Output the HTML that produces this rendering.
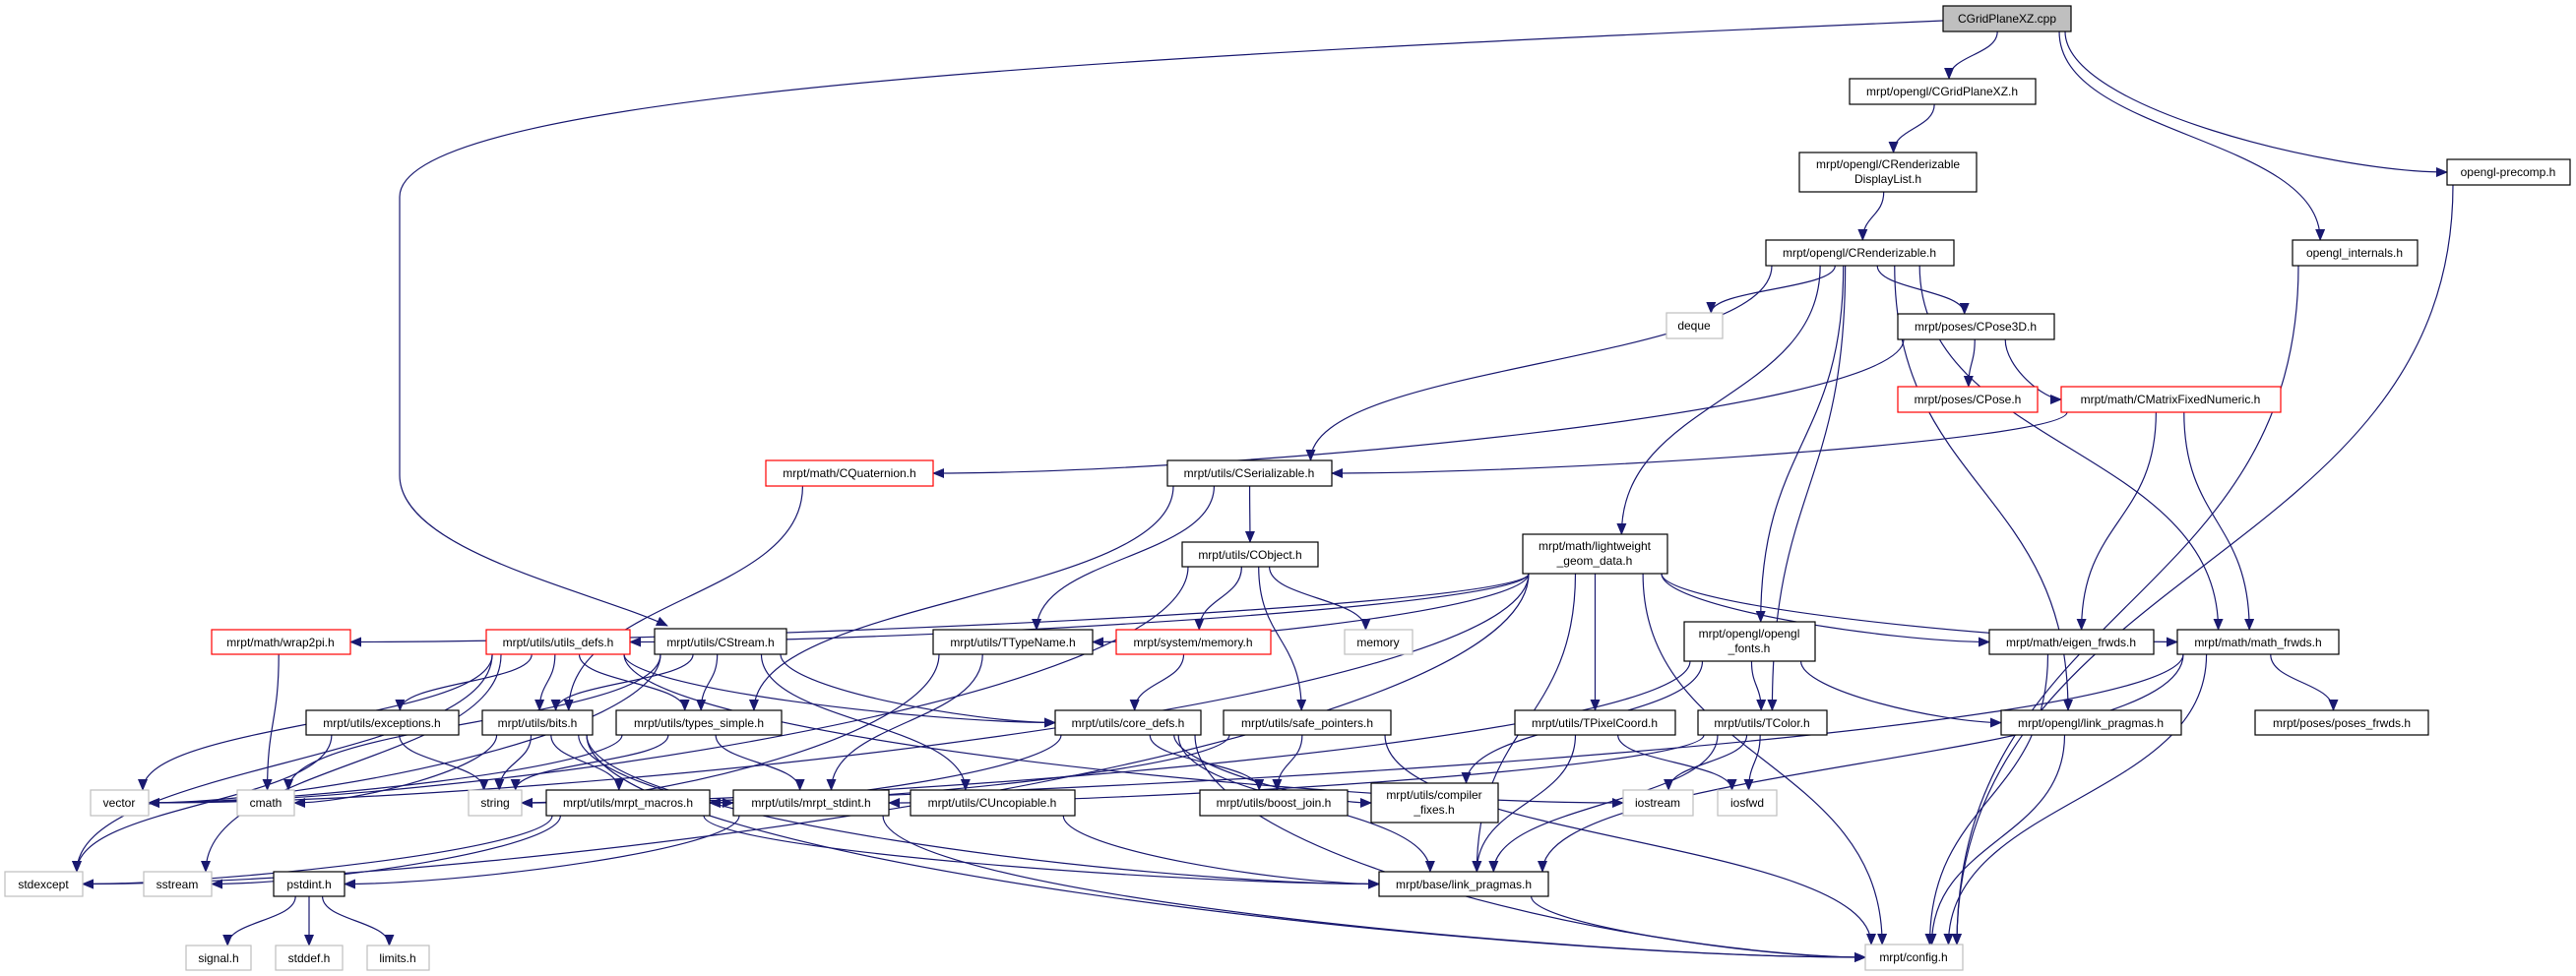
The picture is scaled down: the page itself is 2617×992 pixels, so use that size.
<!DOCTYPE html>
<html><head><meta charset="utf-8">
<style>
html,body{margin:0;padding:0;background:#fff;}
svg{display:block;}
text{font-family:"Liberation Sans",sans-serif;font-size:12px;fill:#000;}
</style></head>
<body>
<svg id="g" width="2617" height="992" viewBox="0 0 2617 992" xmlns="http://www.w3.org/2000/svg">
<defs>
<marker id="ah" markerWidth="12" markerHeight="10" refX="11" refY="5" orient="auto" markerUnits="userSpaceOnUse">
<path d="M0,0 L12,5 L0,10 z" fill="#191970"/>
</marker>
</defs>
<g id="edges" fill="none" stroke="#191970" stroke-width="1.2">
<path d="M1974,21 C1200,55 406,90 406,200 L406,483 C406,560 600,600 678,636" marker-end="url(#ah)"/>
</g>
<g id="nodes" stroke-width="1.2">
<rect x="1974" y="6" width="130" height="26" fill="#bfbfbf" stroke="#000"/><text x="2039" y="23" text-anchor="middle">CGridPlaneXZ.cpp</text>
<rect x="1879" y="80" width="189" height="26" fill="#fff" stroke="#000"/><text x="1973" y="97" text-anchor="middle">mrpt/opengl/CGridPlaneXZ.h</text>
<rect x="1828" y="155" width="180" height="40" fill="#fff" stroke="#000"/><text x="1918" y="171" text-anchor="middle">mrpt/opengl/CRenderizable</text><text x="1918" y="186" text-anchor="middle">DisplayList.h</text>
<rect x="1794" y="244" width="191" height="26" fill="#fff" stroke="#000"/><text x="1889" y="261" text-anchor="middle">mrpt/opengl/CRenderizable.h</text>
<rect x="2329" y="244" width="127" height="26" fill="#fff" stroke="#000"/><text x="2392" y="261" text-anchor="middle">opengl_internals.h</text>
<rect x="2486" y="162" width="125" height="26" fill="#fff" stroke="#000"/><text x="2548" y="179" text-anchor="middle">opengl-precomp.h</text>
<rect x="1693" y="318" width="57" height="26" fill="#fff" stroke="#bfbfbf"/><text x="1721" y="335" text-anchor="middle">deque</text>
<rect x="1928" y="319" width="159" height="26" fill="#fff" stroke="#000"/><text x="2007" y="336" text-anchor="middle">mrpt/poses/CPose3D.h</text>
<rect x="1928" y="393" width="142" height="26" fill="#fff" stroke="#ff0000"/><text x="1999" y="410" text-anchor="middle">mrpt/poses/CPose.h</text>
<rect x="2094" y="393" width="223" height="26" fill="#fff" stroke="#ff0000"/><text x="2205" y="410" text-anchor="middle">mrpt/math/CMatrixFixedNumeric.h</text>
<rect x="778" y="468" width="170" height="26" fill="#fff" stroke="#ff0000"/><text x="863" y="485" text-anchor="middle">mrpt/math/CQuaternion.h</text>
<rect x="1186" y="468" width="167" height="26" fill="#fff" stroke="#000"/><text x="1269" y="485" text-anchor="middle">mrpt/utils/CSerializable.h</text>
<rect x="1201" y="551" width="138" height="25" fill="#fff" stroke="#000"/><text x="1270" y="568" text-anchor="middle">mrpt/utils/CObject.h</text>
<rect x="1547" y="543" width="147" height="40" fill="#fff" stroke="#000"/><text x="1620" y="559" text-anchor="middle">mrpt/math/lightweight</text><text x="1620" y="574" text-anchor="middle">_geom_data.h</text>
<rect x="215" y="640" width="141" height="25" fill="#fff" stroke="#ff0000"/><text x="285" y="657" text-anchor="middle">mrpt/math/wrap2pi.h</text>
<rect x="494" y="640" width="146" height="25" fill="#fff" stroke="#ff0000"/><text x="567" y="657" text-anchor="middle">mrpt/utils/utils_defs.h</text>
<rect x="665" y="639" width="134" height="26" fill="#fff" stroke="#000"/><text x="732" y="657" text-anchor="middle">mrpt/utils/CStream.h</text>
<rect x="948" y="640" width="162" height="25" fill="#fff" stroke="#000"/><text x="1029" y="657" text-anchor="middle">mrpt/utils/TTypeName.h</text>
<rect x="1134" y="640" width="157" height="25" fill="#fff" stroke="#ff0000"/><text x="1212" y="657" text-anchor="middle">mrpt/system/memory.h</text>
<rect x="1366" y="640" width="69" height="25" fill="#fff" stroke="#bfbfbf"/><text x="1400" y="657" text-anchor="middle">memory</text>
<rect x="1711" y="632" width="133" height="40" fill="#fff" stroke="#000"/><text x="1777" y="648" text-anchor="middle">mrpt/opengl/opengl</text><text x="1777" y="663" text-anchor="middle">_fonts.h</text>
<rect x="2021" y="640" width="167" height="25" fill="#fff" stroke="#000"/><text x="2104" y="657" text-anchor="middle">mrpt/math/eigen_frwds.h</text>
<rect x="2212" y="640" width="164" height="25" fill="#fff" stroke="#000"/><text x="2294" y="657" text-anchor="middle">mrpt/math/math_frwds.h</text>
<rect x="311" y="722" width="155" height="25" fill="#fff" stroke="#000"/><text x="388" y="739" text-anchor="middle">mrpt/utils/exceptions.h</text>
<rect x="490" y="722" width="112" height="25" fill="#fff" stroke="#000"/><text x="546" y="739" text-anchor="middle">mrpt/utils/bits.h</text>
<rect x="626" y="722" width="168" height="25" fill="#fff" stroke="#000"/><text x="710" y="739" text-anchor="middle">mrpt/utils/types_simple.h</text>
<rect x="1072" y="722" width="148" height="25" fill="#fff" stroke="#000"/><text x="1146" y="739" text-anchor="middle">mrpt/utils/core_defs.h</text>
<rect x="1243" y="722" width="170" height="25" fill="#fff" stroke="#000"/><text x="1328" y="739" text-anchor="middle">mrpt/utils/safe_pointers.h</text>
<rect x="1539" y="722" width="163" height="25" fill="#fff" stroke="#000"/><text x="1620" y="739" text-anchor="middle">mrpt/utils/TPixelCoord.h</text>
<rect x="1725" y="722" width="131" height="25" fill="#fff" stroke="#000"/><text x="1790" y="739" text-anchor="middle">mrpt/utils/TColor.h</text>
<rect x="2033" y="722" width="183" height="25" fill="#fff" stroke="#000"/><text x="2124" y="739" text-anchor="middle">mrpt/opengl/link_pragmas.h</text>
<rect x="2291" y="722" width="176" height="25" fill="#fff" stroke="#000"/><text x="2379" y="739" text-anchor="middle">mrpt/poses/poses_frwds.h</text>
<rect x="92" y="803" width="59" height="26" fill="#fff" stroke="#bfbfbf"/><text x="121" y="820" text-anchor="middle">vector</text>
<rect x="241" y="803" width="58" height="26" fill="#fff" stroke="#bfbfbf"/><text x="270" y="820" text-anchor="middle">cmath</text>
<rect x="476" y="803" width="54" height="26" fill="#fff" stroke="#bfbfbf"/><text x="503" y="820" text-anchor="middle">string</text>
<rect x="555" y="803" width="166" height="26" fill="#fff" stroke="#000"/><text x="638" y="820" text-anchor="middle">mrpt/utils/mrpt_macros.h</text>
<rect x="745" y="803" width="158" height="26" fill="#fff" stroke="#000"/><text x="824" y="820" text-anchor="middle">mrpt/utils/mrpt_stdint.h</text>
<rect x="925" y="803" width="167" height="26" fill="#fff" stroke="#000"/><text x="1008" y="820" text-anchor="middle">mrpt/utils/CUncopiable.h</text>
<rect x="1219" y="803" width="150" height="26" fill="#fff" stroke="#000"/><text x="1294" y="820" text-anchor="middle">mrpt/utils/boost_join.h</text>
<rect x="1393" y="796" width="129" height="40" fill="#fff" stroke="#000"/><text x="1457" y="812" text-anchor="middle">mrpt/utils/compiler</text><text x="1457" y="827" text-anchor="middle">_fixes.h</text>
<rect x="1649" y="803" width="71" height="26" fill="#fff" stroke="#bfbfbf"/><text x="1684" y="820" text-anchor="middle">iostream</text>
<rect x="1745" y="803" width="60" height="26" fill="#fff" stroke="#bfbfbf"/><text x="1775" y="820" text-anchor="middle">iosfwd</text>
<rect x="5" y="886" width="79" height="25" fill="#fff" stroke="#bfbfbf"/><text x="44" y="903" text-anchor="middle">stdexcept</text>
<rect x="146" y="886" width="69" height="25" fill="#fff" stroke="#bfbfbf"/><text x="180" y="903" text-anchor="middle">sstream</text>
<rect x="278" y="886" width="72" height="25" fill="#fff" stroke="#000"/><text x="314" y="903" text-anchor="middle">pstdint.h</text>
<rect x="1401" y="886" width="172" height="25" fill="#fff" stroke="#000"/><text x="1487" y="903" text-anchor="middle">mrpt/base/link_pragmas.h</text>
<rect x="189" y="961" width="66" height="25" fill="#fff" stroke="#bfbfbf"/><text x="222" y="978" text-anchor="middle">signal.h</text>
<rect x="280" y="961" width="68" height="25" fill="#fff" stroke="#bfbfbf"/><text x="314" y="978" text-anchor="middle">stddef.h</text>
<rect x="373" y="961" width="63" height="25" fill="#fff" stroke="#bfbfbf"/><text x="404" y="978" text-anchor="middle">limits.h</text>
<rect x="1895" y="960" width="99" height="26" fill="#fff" stroke="#bfbfbf"/><text x="1944" y="977" text-anchor="middle">mrpt/config.h</text>
</g>
</svg>
<script>
var N={
cpp:[1974,6,2104,32],gph:[1879,80,2068,106],dl:[1828,155,2008,195],ren:[1794,244,1985,270],
oint:[2329,244,2456,270],pre:[2486,162,2611,188],deque:[1693,318,1750,344],pose3d:[1928,319,2087,345],
cpose:[1928,393,2070,419],cmfn:[2094,393,2317,419],cquat:[778,468,948,494],cser:[1186,468,1353,494],
cobj:[1201,551,1339,576],lw:[1547,543,1694,583],wrap:[215,640,356,665],udefs:[494,640,640,665],
cstream:[665,639,799,665],ttn:[948,640,1110,665],smem:[1134,640,1291,665],memory:[1366,640,1435,665],
fonts:[1711,632,1844,672],eigen:[2021,640,2188,665],mathf:[2212,640,2376,665],exc:[311,722,466,747],
bits:[490,722,602,747],tsimple:[626,722,794,747],core:[1072,722,1220,747],safe:[1243,722,1413,747],
tpix:[1539,722,1702,747],tcolor:[1725,722,1856,747],glp:[2033,722,2216,747],posesf:[2291,722,2467,747],
vector:[92,803,151,829],cmath:[241,803,299,829],string:[476,803,530,829],macros:[555,803,721,829],
stdint:[745,803,903,829],uncop:[925,803,1092,829],bjoin:[1219,803,1369,829],cfix:[1393,796,1522,836],
iostream:[1649,803,1720,829],iosfwd:[1745,803,1805,829],stdexc:[5,886,84,911],sstream:[146,886,215,911],
pstd:[278,886,350,911],blp:[1401,886,1573,911],signal:[189,961,255,986],stddef:[280,961,348,986],
limits:[373,961,436,986],config:[1895,960,1994,986]};
var E=[["cpp","gph"],["cpp","oint"],["cpp","pre"],["gph","dl"],["dl","ren"],
["ren","deque"],["ren","pose3d"],["ren","cser"],["ren","lw"],["ren","fonts"],["ren","tcolor"],["ren","mathf"],["ren","glp"],
["pose3d","cquat"],["pose3d","cpose"],["pose3d","cmfn"],["cmfn","cser"],["cmfn","eigen"],["cmfn","mathf"],
["cquat","bits"],["cser","cobj"],["cser","ttn"],["cser","tsimple"],
["cobj","memory"],["cobj","smem"],["cobj","safe"],["cobj","vector"],
["lw","ttn"],["lw","udefs"],["lw","wrap"],["lw","vector"],["lw","stdexc"],["lw","tpix"],["lw","mathf"],["lw","eigen"],["lw","blp"],["lw","config"],
["wrap","cmath"],["udefs","bits"],["udefs","tsimple"],["udefs","exc"],["udefs","vector"],["udefs","stdexc"],["udefs","sstream"],["udefs","core"],["udefs","iostream"],
["cstream","bits"],["cstream","tsimple"],["cstream","core"],["cstream","uncop"],["cstream","vector"],["cstream","cmath"],
["ttn","string"],["ttn","stdint"],["smem","core"],
["fonts","cfix"],["fonts","tcolor"],["fonts","glp"],["fonts","string"],
["eigen","config"],["mathf","posesf"],["mathf","config"],["mathf","blp"],["mathf","string"],
["exc","string"],["exc","stdexc"],["bits","string"],["bits","cmath"],["bits","macros"],["bits","stdint"],["bits","blp"],["bits","config"],
["tsimple","string"],["tsimple","stdint"],["tsimple","vector"],
["core","bjoin"],["core","cfix"],["core","blp"],["core","config"],["core","macros"],
["safe","bjoin"],["safe","config"],["safe","macros"],
["tpix","iosfwd"],["tpix","blp"],["tcolor","iostream"],["tcolor","iosfwd"],["tcolor","blp"],["tcolor","stdint"],
["glp","config"],["macros","stdexc"],["macros","sstream"],["macros","blp"],
["stdint","pstd"],["stdint","config"],["uncop","blp"],["blp","config"],
["pstd","signal"],["pstd","stddef"],["pstd","limits"],["oint","config"],["pre","config"]];
var g=document.getElementById("edges");
function cl(v,a,b){return Math.max(a,Math.min(b,v));}
E.forEach(function(e){
 var a=N[e[0]],b=N[e[1]];
 var acx=(a[0]+a[2])/2,bcx=(b[0]+b[2])/2,sx,sy,tx,ty,d;
 if(b[1]>a[3]-2){
  sx=cl(acx+(bcx-acx)*0.15,a[0]+6,a[2]-6);sy=a[3];
  tx=cl(bcx+(acx-bcx)*0.1,b[0]+6,b[2]-6);ty=b[1];
  var dy=ty-sy, h=Math.abs(tx-sx);
  if(h>dy*3){
   // enter side
   if(tx<sx){tx=b[2];}else{tx=b[0];}
   ty=(b[1]+b[3])/2;
   d="M"+sx+","+sy+" C"+sx+","+(sy+dy*0.6)+" "+(tx+(sx-tx)*0.3)+","+ty+" "+tx+","+ty;
  } else {
   d="M"+sx+","+sy+" C"+sx+","+(sy+dy*0.5)+" "+tx+","+(ty-dy*0.5)+" "+tx+","+ty;
  }
 } else {
  // same row or upward: side to side
  if(bcx<acx){sx=a[0];tx=b[2];}else{sx=a[2];tx=b[0];}
  sy=(a[1]+a[3])/2;ty=(b[1]+b[3])/2;
  d="M"+sx+","+sy+" C"+((sx+tx)/2)+","+sy+" "+((sx+tx)/2)+","+ty+" "+tx+","+ty;
 }
 var p=document.createElementNS("http://www.w3.org/2000/svg","path");
 p.setAttribute("d",d);p.setAttribute("marker-end","url(#ah)");
 g.appendChild(p);
});
</script>
</body></html>
